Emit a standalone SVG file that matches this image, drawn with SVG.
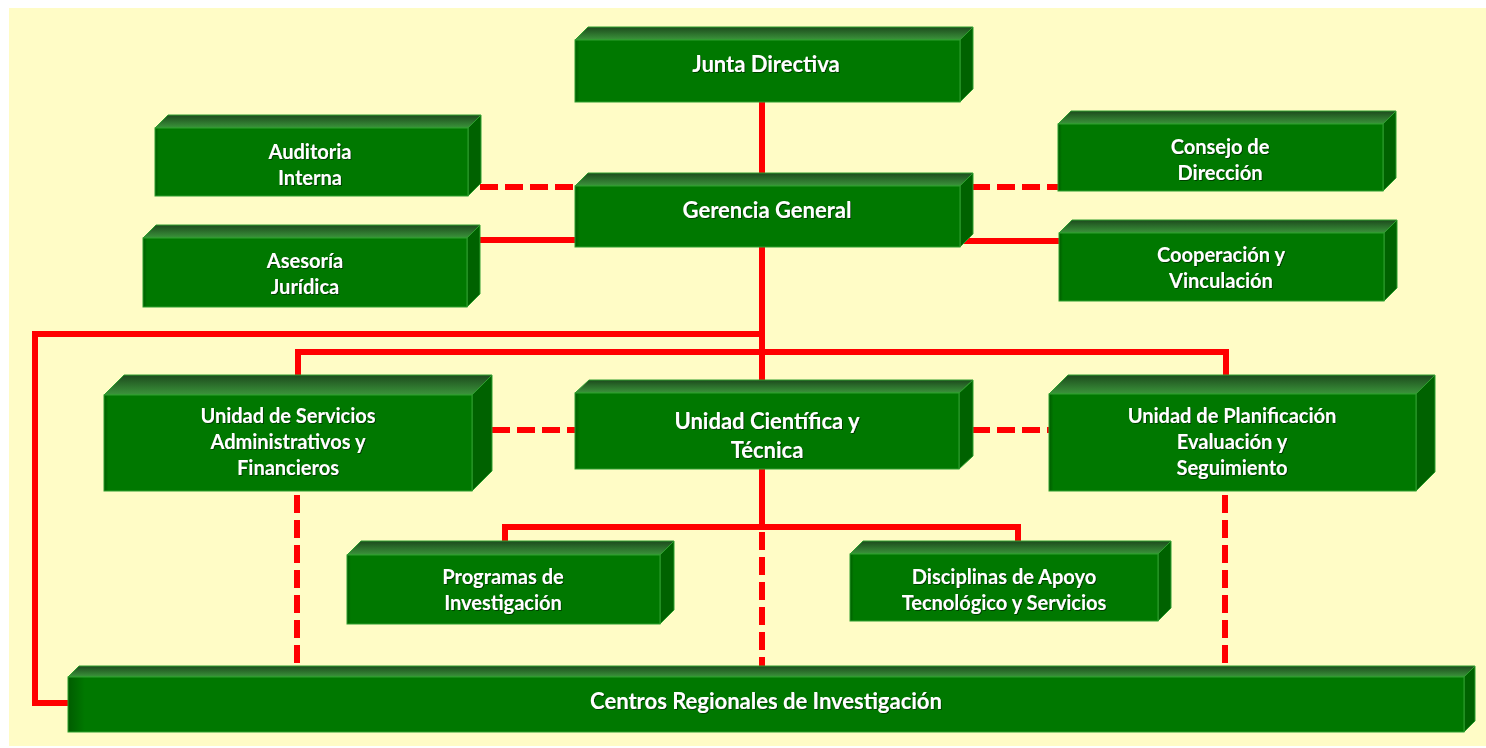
<svg xmlns="http://www.w3.org/2000/svg" width="1486" height="748" viewBox="0 0 1486 748">
<defs>
<linearGradient id="topg" x1="0" y1="0" x2="0" y2="1">
<stop offset="0" stop-color="#1d4a1d"/>
<stop offset="1" stop-color="#3b953b"/>
</linearGradient>
<linearGradient id="frontg" x1="0" y1="0" x2="1" y2="0">
<stop offset="0" stop-color="#005c00"/>
<stop offset="0.012" stop-color="#007800"/>
<stop offset="1" stop-color="#007800"/>
</linearGradient>
<filter id="ts" x="-5%" y="-20%" width="110%" height="140%">
<feDropShadow dx="1" dy="1" stdDeviation="0.6" flood-color="#003000" flood-opacity="0.8"/>
</filter>
</defs>
<style>
.front{fill:url(#frontg);stroke:#2e9e2e;stroke-width:1}
.top{fill:url(#topg);stroke:#2e9e2e;stroke-width:1}
.side{fill:#006200;stroke:#2e9e2e;stroke-width:1}
.t{font-family:Lato,"Open Sans","Liberation Sans",sans-serif;font-weight:bold;font-size:20px;fill:#ffffff;text-anchor:middle;dominant-baseline:central;filter:url(#ts)}
.big{font-size:22px}
.mid{font-size:22px}
.ln{fill:none;stroke:#ff0000;stroke-width:6}
.dash{fill:none;stroke:#ff0000;stroke-width:6;stroke-dasharray:18 7}
</style>
<rect x="0" y="0" width="1486" height="748" fill="#ffffff"/>
<rect x="9" y="8" width="1477" height="738" fill="#fffcc6"/>

<g id="connectors">
<path class="ln" d="M762,102 V393"/>
<path class="ln" d="M762,334 H35 V703 H68"/>
<path class="ln" d="M298,378 V352 H1226 V378"/>
<path class="ln" d="M479,240 H575"/>
<path class="ln" d="M960,241 H1059"/>
<path class="dash" d="M480,187 H575"/>
<path class="dash" d="M972,187 H1058"/>
<path class="dash" d="M492,430 H575"/>
<path class="dash" d="M972,430 H1049"/>
<path class="ln" d="M762,469 V527"/>
<path class="ln" d="M505,542 V527 H1018 V542"/>
<path class="dash" d="M762,532 V666"/>
<path class="dash" d="M297,495 V666"/>
<path class="dash" d="M1225,495 V666"/>
</g>

<g id="junta">
<path class="top" d="M575,40 L588,27 L973,27 L960,40 Z"/>
<path class="side" d="M960,40 L973,27 L973,89 L960,102 Z"/>
<rect class="front" x="575" y="40" width="385" height="62"/>
<text class="t mid" x="766" y="63">Junta Directiva</text>
</g>

<g id="auditoria">
<path class="top" d="M155,128 L168,115 L481,115 L468,128 Z"/>
<path class="side" d="M468,128 L481,115 L481,183 L468,196 Z"/>
<rect class="front" x="155" y="128" width="313" height="68"/>
<text class="t" x="310" y="151">Auditoria</text>
<text class="t" x="310" y="177">Interna</text>
</g>

<g id="asesoria">
<path class="top" d="M143,238 L156,225 L480,225 L467,238 Z"/>
<path class="side" d="M467,238 L480,225 L480,294 L467,307 Z"/>
<rect class="front" x="143" y="238" width="324" height="69"/>
<text class="t" x="305" y="260">Asesoría</text>
<text class="t" x="305" y="286">Jurídica</text>
</g>

<g id="gerencia">
<path class="top" d="M575,186 L588,173 L973,173 L960,186 Z"/>
<path class="side" d="M960,186 L973,173 L973,234 L960,247 Z"/>
<rect class="front" x="575" y="186" width="385" height="61"/>
<text class="t mid" x="767" y="209">Gerencia General</text>
</g>

<g id="consejo">
<path class="top" d="M1058,124 L1071,111 L1396,111 L1383,124 Z"/>
<path class="side" d="M1383,124 L1396,111 L1396,178 L1383,191 Z"/>
<rect class="front" x="1058" y="124" width="325" height="67"/>
<text class="t" x="1220" y="146">Consejo de</text>
<text class="t" x="1220" y="172">Dirección</text>
</g>

<g id="cooperacion">
<path class="top" d="M1059,233 L1072,220 L1397,220 L1384,233 Z"/>
<path class="side" d="M1384,233 L1397,220 L1397,288 L1384,301 Z"/>
<rect class="front" x="1059" y="233" width="325" height="68"/>
<text class="t" x="1221" y="254">Cooperación y</text>
<text class="t" x="1221" y="280">Vinculación</text>
</g>

<g id="servicios">
<path class="top" d="M104,395 L124,375 L492,375 L472,395 Z"/>
<path class="side" d="M472,395 L492,375 L492,471 L472,491 Z"/>
<rect class="front" x="104" y="395" width="368" height="96"/>
<text class="t" x="288" y="415">Unidad de Servicios</text>
<text class="t" x="288" y="441">Administrativos y</text>
<text class="t" x="288" y="467">Financieros</text>
</g>

<g id="cientifica">
<path class="top" d="M575,393 L589,380 L973,380 L959,393 Z"/>
<path class="side" d="M959,393 L973,380 L973,456 L959,469 Z"/>
<rect class="front" x="575" y="393" width="384" height="76"/>
<text class="t big" x="767" y="420">Unidad Científica y</text>
<text class="t big" x="767" y="449">Técnica</text>
</g>

<g id="planificacion">
<path class="top" d="M1049,394 L1068,375 L1435,375 L1416,394 Z"/>
<path class="side" d="M1416,394 L1435,375 L1435,472 L1416,491 Z"/>
<rect class="front" x="1049" y="394" width="367" height="97"/>
<text class="t" x="1232" y="415">Unidad de Planificación</text>
<text class="t" x="1232" y="441">Evaluación y</text>
<text class="t" x="1232" y="467">Seguimiento</text>
</g>

<g id="programas">
<path class="top" d="M347,555 L361,541 L674,541 L660,555 Z"/>
<path class="side" d="M660,555 L674,541 L674,610 L660,624 Z"/>
<rect class="front" x="347" y="555" width="313" height="69"/>
<text class="t" x="503" y="576">Programas de</text>
<text class="t" x="503" y="602">Investigación</text>
</g>

<g id="disciplinas">
<path class="top" d="M850,554 L863,541 L1171,541 L1158,554 Z"/>
<path class="side" d="M1158,554 L1171,541 L1171,608 L1158,621 Z"/>
<rect class="front" x="850" y="554" width="308" height="67"/>
<text class="t" x="1004" y="576">Disciplinas de Apoyo</text>
<text class="t" x="1004" y="602">Tecnológico y Servicios</text>
</g>

<g id="centros">
<path class="top" d="M68,677 L79,666 L1475,666 L1464,677 Z"/>
<path class="side" d="M1464,677 L1475,666 L1475,721 L1464,732 Z"/>
<rect class="front" x="68" y="677" width="1396" height="55"/>
<text class="t mid" x="766" y="700">Centros Regionales de Investigación</text>
</g>
</svg>
